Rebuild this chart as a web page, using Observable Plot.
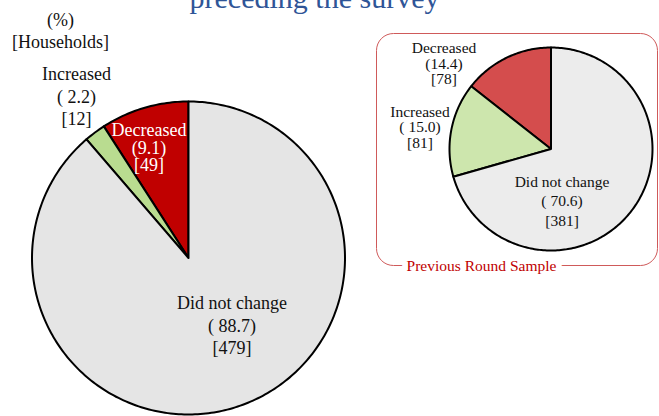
<!DOCTYPE html>
<html><head><meta charset="utf-8">
<script src="https://cdn.jsdelivr.net/npm/d3@7"></script>
<script src="https://cdn.jsdelivr.net/npm/@observablehq/plot@0.6"></script>
<style>html,body{margin:0;padding:0;background:#fff;overflow:hidden} svg{display:block}</style>
</head><body><div id="chart"></div>
<script>
// ---- data ----
const categories = ["Decreased", "Increased", "Did not change"];
const currentPercent = [9.1, 2.2, 88.7];
const currentHouseholds = [49, 12, 479];
const previousPercent = [14.4, 15.0, 70.6];
const previousHouseholds = [78, 81, 381];
const titleText = "preceding the survey";
const unitLabels = ["(%)", "[Households]"];
const insetLabel = "Previous Round Sample";

// ---- layout (positions / styles) ----
const W = 659, H = 416;
const FONT = "Liberation Serif, Times New Roman, serif";
const pies = [
  {
    pct: currentPercent, n: currentHouseholds,
    cx: 188, cy: 257.5, r: 156.5,
    colors: ["#c00000", "#b9dc90", "#e5e5e5"],
    fontSize: 18,
    labels: [
      {x: 148.5, y: 147.5, lh: 0.98, fill: "#ffffff"},
      {x: 76, y: 95, lh: 1.25, fill: "#111"},
      {x: 231.5, y: 324, lh: 1.25, fill: "#111"}
    ]
  },
  {
    pct: previousPercent, n: previousHouseholds,
    cx: 550.5, cy: 148.5, r: 101.5,
    colors: ["#d44d4d", "#cde6ad", "#ececec"],
    fontSize: 15.5,
    labels: [
      {x: 443.5, y: 63.5, lh: 1.0, fill: "#111"},
      {x: 419.5, y: 127, lh: 1.0, fill: "#111"},
      {x: 561.5, y: 199.5, lh: 1.27, fill: "#111"}
    ]
  }
];

const fmt = (cat, v) => cat === "Decreased" ? `(${v.toFixed(1)})` : `( ${v.toFixed(1)})`;

const marks = [];

// inset frame
marks.push(Plot.rect([0], {
  x1: () => 376.5, x2: () => 657.5, y1: () => 33.5, y2: () => 265.5,
  rx: 17, fill: "none", stroke: "#cf5a5a", strokeWidth: 1
}));

const pieGen = d3.pie().sort(null).startAngle(0).endAngle(-2 * Math.PI);
for (const p of pies) {
  const arcs = pieGen(p.pct);
  arcs.forEach((a, i) => {
    const pts = [{x: p.cx, y: p.cy}];
    const steps = Math.max(2, Math.ceil(Math.abs(a.endAngle - a.startAngle) / (Math.PI / 180)));
    for (let k = 0; k <= steps; k++) {
      const t = a.startAngle + (a.endAngle - a.startAngle) * k / steps;
      pts.push({x: p.cx + p.r * Math.sin(t), y: p.cy - p.r * Math.cos(t)});
    }
    pts.push({x: p.cx, y: p.cy});
    marks.push(Plot.line(pts, {
      x: "x", y: "y", fill: p.colors[i], stroke: "#000", strokeWidth: 2,
      strokeLinejoin: "round", curve: "linear"
    }));
  });
  categories.forEach((c, i) => {
    const L = p.labels[i];
    marks.push(Plot.text([`${c}\n${fmt(c, p.pct[i])}\n[${p.n[i]}]`], {
      x: () => L.x, y: () => L.y, text: d => d,
      fontSize: p.fontSize, lineHeight: L.lh, fill: L.fill,
      fontFamily: FONT, textAnchor: "middle", lineAnchor: "middle"
    }));
  });
}

// inset label with white halo cutting the frame
marks.push(Plot.text([insetLabel], {
  x: () => 481, y: () => 266, text: d => d, fontSize: 15.5, fontFamily: FONT,
  fill: "#c00000", stroke: "#ffffff", strokeWidth: 12, lineAnchor: "middle"
}));

// units
marks.push(Plot.text([unitLabels.join("\n")], {
  x: () => 60, y: () => 29, text: d => d, fontSize: 18, lineHeight: 1.22,
  fontFamily: FONT, fill: "#111", lineAnchor: "middle"
}));

// title (cropped at the top, as in the reference)
marks.push(Plot.text([titleText], {
  x: () => 314, y: () => 6, text: d => d, fontSize: 30, fontFamily: FONT,
  fill: "#2f5597", lineAnchor: "bottom", dy: 1
}));

const chart = Plot.plot({
  width: W, height: H, margin: 0,
  x: {domain: [0, W], range: [0, W], axis: null},
  y: {domain: [0, H], range: [0, H], axis: null},
  style: {background: "#fff", fontFamily: FONT},
  marks
});
document.getElementById("chart").append(chart);
</script>
</body></html>
